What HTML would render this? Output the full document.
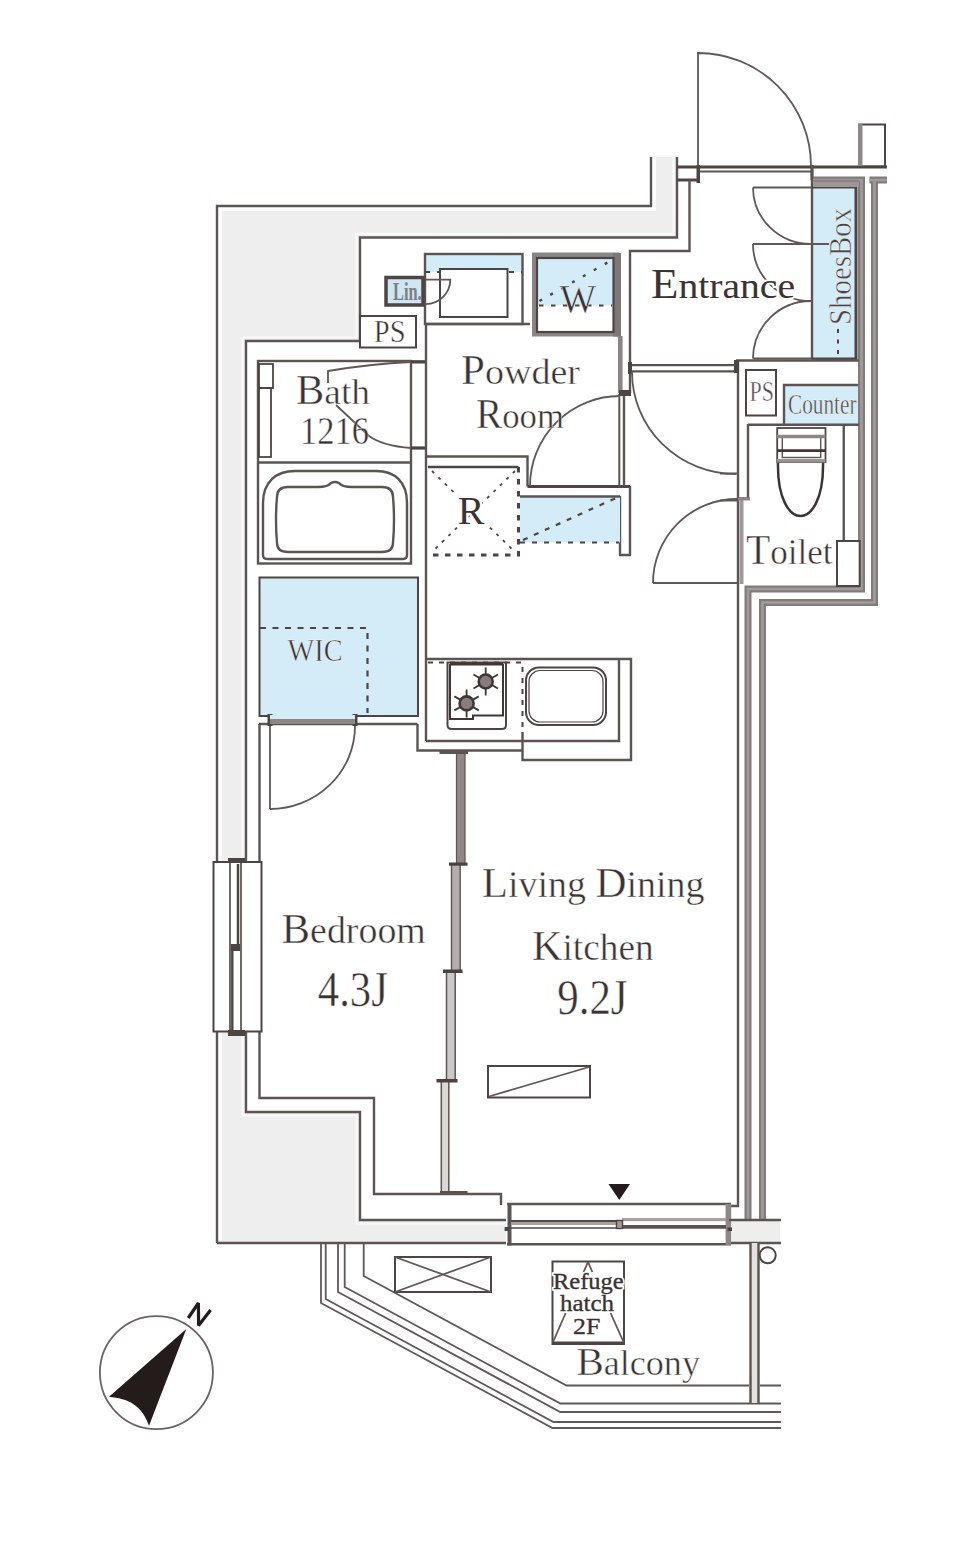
<!DOCTYPE html>
<html><head><meta charset="utf-8"><title>Floor plan</title>
<style>
html,body{margin:0;padding:0;background:#fff;width:960px;height:1552px;overflow:hidden}
svg{display:block}
.l{stroke:#5b5452;stroke-width:2.4;fill:none}
.m{stroke:#5f5856;stroke-width:1.8;fill:none}
.k{stroke:#4d4543;stroke-width:3;fill:none}
.d{stroke:#4d4543;stroke-width:1.6;fill:none;stroke-dasharray:4 3}
.g{fill:#eeeeee}
.b{fill:#d4ebf8}
.gw{stroke:#8d8685;stroke-width:5.5;fill:none}
text{font-family:"Liberation Serif",serif;fill:#3a3332;stroke:#fff;stroke-width:0.45px}
.halo text{stroke:#fff;stroke-width:3.5px;fill:#fff}
.bold text{stroke:#3a3332;stroke-width:0.35px;fill:#3a3332}
</style></head>
<body>
<svg width="960" height="1552" viewBox="0 0 960 1552">
<!-- GRAY OUTER WALL -->
<path class="g" d="M217,206 H651 V157 H677 V237.5 H360 V341 H246 V1112 H360 V1220 H506 V1243 H217 Z"/>
<path d="M220,1240 V209 H654 V157" stroke="#fff" stroke-width="4" fill="none"/>
<path class="l" d="M217,1243 V206 H651 V157"/>
<path d="M673.5,157 V234 H356.5 V337.5 H242.5 V1115.5 H356.5 V1223.5 H506" stroke="#fbfbfb" stroke-width="2" fill="none" opacity="0.8"/>
<path class="l" d="M677,157 V237.5 H360 V341 H246 V1112 H360 V1220 H506"/>
<path class="l" d="M217,1243 H506"/>

<!-- entrance door / top -->
<path class="m" d="M698,166 V53 A113,113 0 0 1 811,166"/>
<path class="k" d="M677,167 H887"/>
<path class="m" d="M697,171.5 H812"/>
<path class="k" d="M677,180 H697"/>
<path class="l" d="M689.5,180 V251 H630 V393"/>
<rect x="696.5" y="165" width="3.5" height="18" fill="#4d4543"/>
<rect x="810.5" y="165" width="3" height="15" fill="#4d4543"/>
<rect x="859" y="124.5" width="26" height="42" fill="none" stroke="#4d4543" stroke-width="2"/>
<rect x="858" y="124" width="4.5" height="42" fill="#8d8685"/>
<!-- MARKER:TOP -->
<!-- east walls -->
<path d="M812,180 H861.5 V589 H748 V1221 M869.5,180 H887 M874.5,180 V602.5 H762.5 V1221" stroke="#817b7a" stroke-width="7" fill="none"/>
<path d="M812,180 H861.5 V589 H748 V1221 M869.5,180 H887 M874.5,180 V602.5 H762.5 V1221" stroke="#a19c9b" stroke-width="2.6" fill="none"/>
<!-- shoebox -->
<rect x="812" y="186" width="44" height="173" class="b"/>
<path class="l" d="M812,165 V360"/>
<path class="k" d="M812,187 H856 V359 H812"/>
<path d="M838,329 V357" stroke="#4d4543" stroke-width="2" stroke-dasharray="4 6.5"/>
<rect x="813" y="179" width="46" height="8" fill="#9e9796"/>
<path d="M813,181 H859" stroke="#8a8382" stroke-width="2"/>
<!-- shoe doors -->
<path class="m" d="M753,187.5 H811 M753,187.5 A58,56.5 0 0 0 811,244 M753,244 H829 M753,244 A58,57 0 0 0 811,301 M753,358.5 A58,57.5 0 0 1 811,301 H800 M753,358.5 H811"/>
<!-- toilet zone -->
<path class="l" d="M736,360.5 H859"/>
<path class="l" d="M738,360 V1206 H731"/>
<path d="M630,365.2 H737 M630,371.3 H737" stroke="#5a5250" stroke-width="2.3" fill="none"/>
<rect x="734" y="360" width="5" height="13" fill="#4d4543"/>
<rect x="628" y="362" width="4" height="12" fill="#4d4543"/>
<path class="m" d="M632,372 A104,102 0 0 0 736,474"/>
<rect x="746" y="370" width="30" height="45.5" fill="none" stroke="#4d4543" stroke-width="2"/>
<rect x="784" y="385" width="74" height="40" class="b"/>
<path class="l" d="M784,425 V385 H858"/>
<path d="M784,425 H858" stroke="#4d4543" stroke-width="2.2" stroke-dasharray="5 7"/>
<path class="l" d="M748,424.7 H859 M748,424 V498.5 H737"/>
<path class="l" d="M843.75,425 V541"/>
<rect x="837" y="541" width="22.7" height="45" fill="#fff" stroke="#4d4543" stroke-width="2"/>
<path d="M741.5,500 V584" stroke="#9f9897" stroke-width="4"/>
<path d="M738,499 H750" stroke="#8d8685" stroke-width="3"/>
<path class="m" d="M653,583 A84,84 0 0 1 737,499 M653,583 H737"/>
<path class="m" d="M720,473.5 H737 M720,500.5 H737"/>
<!-- toilet -->
<path d="M778,461 C777,500 790,516 800.5,516 C811,516 824,500 823,461" stroke="#3a3332" stroke-width="2.5" fill="none"/>
<rect x="777.2" y="428" width="48.3" height="34" fill="#fff" stroke="#4d4543" stroke-width="1.8"/>
<rect x="782.3" y="436" width="38.4" height="21.5" fill="none" stroke="#5a5250" stroke-width="1.4"/>
<path d="M777,436.6 H825.5" stroke="#8d8685" stroke-width="3.5"/>
<path d="M777,450.6 H826" stroke="#3e3735" stroke-width="2.6"/>
<path d="M777,460.8 H825.5" stroke="#9a9392" stroke-width="3.5"/>
<!-- MARKER:EAST -->
<!-- vanity -->
<rect x="425" y="254" width="97.5" height="18" class="b"/>
<rect x="425" y="254" width="97.5" height="70" class="l"/>
<path d="M425,272 H522" stroke="#4d4543" stroke-width="2.2" stroke-dasharray="5 7"/>
<rect x="440" y="269" width="67.5" height="48" fill="#fff" stroke="#4d4543" stroke-width="2"/>
<path class="l" d="M425,324 H530"/>
<!-- Lin -->
<path class="m" d="M424,279.6 H450.3 A24.5,24.5 0 0 1 425.8,304.1"/>
<rect x="386" y="277.5" width="37" height="27.5" fill="#cfe6f3" stroke="#4d4543" stroke-width="3.5"/>
<!-- PS upper -->
<rect x="360" y="316" width="56" height="31.5" fill="#fff" stroke="#4d4543" stroke-width="2"/>
<!-- W box -->
<rect x="538" y="259" width="75" height="46.5" class="b"/>
<rect x="534.5" y="255" width="82" height="79" fill="none" stroke="#8a8584" stroke-width="5"/>
<rect x="613" y="253" width="8" height="83.5" fill="#7d7877"/>
<rect x="537" y="258" width="76.5" height="74" fill="none" stroke="#4d4543" stroke-width="2.2"/>
<path d="M539,305.5 H612" stroke="#4d4543" stroke-width="2.2" stroke-dasharray="4.5 7.5" fill="none"/>
<path d="M539.4,301 L607.6,262.5" stroke="#4d4543" stroke-width="2.4" stroke-dasharray="3 9.5" fill="none"/>
<!-- powder room walls -->
<path class="l" d="M426,324 V741"/>
<path class="l" d="M426,456.5 H527.5 V486.5"/>
<path class="k" d="M527.5,486.5 H630"/>
<path d="M620.3,336 V393" stroke="#8a8584" stroke-width="4.6" fill="none"/>
<path d="M619.3,394 V487" stroke="#5b5452" stroke-width="2" fill="none"/>
<path class="l" d="M624,396 V486 M630,486 V555 M620,496 V555 M619,555 H631"/>
<rect x="619" y="390" width="12" height="6" fill="#4d4543"/>
<path class="m" d="M620,396 A90,90 0 0 0 530,486"/>
<!-- R box -->
<path d="M428,467 H518.5" stroke="#4d4543" stroke-width="2.6" fill="none"/>
<path d="M518.5,467 V555 H428" stroke="#4d4543" stroke-width="3" stroke-dasharray="5.5 6.5" fill="none"/>
<path d="M432,471 L515,552 M515,471 L432,552" stroke="#4d4543" stroke-width="1.8" stroke-dasharray="3 6" fill="none"/>
<!-- blue shelf -->
<rect x="520" y="496" width="100" height="46.5" class="b"/>
<path class="l" d="M520,496.5 H620"/>
<path d="M520,542.5 H619 M523,540 L616,498" stroke="#4d4543" stroke-width="2.2" stroke-dasharray="5 7" fill="none"/>
<!-- MARKER:POWDER -->
<!-- bath -->
<rect x="258" y="361" width="153" height="202.5" class="l"/>
<path class="l" d="M411,361.5 H425 M411,448 H425"/>
<path class="k" d="M411,362 H425 M411,448 H425"/>
<path class="l" d="M258,462.5 H411"/>
<rect x="259" y="364" width="14" height="24" fill="none" stroke="#4d4543" stroke-width="1.8"/>
<rect x="259" y="388" width="12" height="69" fill="none" stroke="#4d4543" stroke-width="1.8"/>
<path class="m" d="M411,362 Q370,364 328,371 V383"/>
<path class="m" d="M411,448 Q383,446 369,436 L336,405"/>
<!-- tub -->
<path class="l" d="M263,555 V503 C263,482 276,471 295,471 H376 C395,471 407,482 407,503 V555 Q407,559 403,559 H267 Q263,559 263,555 Z"/>
<path class="l" d="M277,497 C277,490 281,487 288,487 H318 Q328,487 331,483 Q335,481 339,483 Q342,487 352,487 H382 C389,487 393,490 393,497 Q395,520 393,543 C393,549 389,552 382,552 H288 C281,552 277,549 277,543 Q275,520 277,497 Z"/>
<!-- WIC -->
<rect x="259.5" y="577.5" width="158.5" height="138.5" class="b" stroke="#4d4543" stroke-width="2"/>
<path d="M260,628 H367.5 V713" stroke="#4d4543" stroke-width="2.2" stroke-dasharray="6 6.5" fill="none"/>
<!-- MARKER:BATH -->
<!-- kitchen counter -->
<path class="l" d="M426,659 H631 V760 H522.5 V732"/>
<path class="l" d="M619,660 V741 H426"/>
<path d="M428,662.5 H522.5 V732" stroke="#4d4543" stroke-width="2" stroke-dasharray="5 6" fill="none"/>
<path class="l" d="M417.5,724 V750.5 H522.5"/>
<!-- stove -->
<path d="M447.5,662.5 H506 V725 Q506,729 502,729 H451.5 Q447.5,729 447.5,725 Z" fill="#fff" stroke="#4d4543" stroke-width="2"/>
<path d="M450,664 V719 H473 V715.5 H503 V664" stroke="#3e3735" stroke-width="2" fill="none"/>
<path d="M450,664 H503" stroke="#3e3735" stroke-width="3" fill="none"/>
<g id="burner">
<path d="M485.7,667.5 V695.5 M473.5,674.5 L497.9,688.5 M473.5,688.5 L497.9,674.5" stroke="#3e3735" stroke-width="1.8"/>
<circle cx="485.7" cy="681.5" r="7" fill="#857e7c" stroke="#3e3735" stroke-width="2.6"/>
</g>
<use href="#burner" x="-19.1" y="21.9"/>
<!-- sink -->
<rect x="526" y="667.5" width="80" height="57.5" rx="13" fill="none" stroke="#4d4543" stroke-width="2"/>
<rect x="529" y="670.5" width="74" height="51.5" rx="11" fill="none" stroke="#4d4543" stroke-width="1.2"/>
<!-- sliding partition -->
<rect x="456.5" y="753" width="8.5" height="111.5" fill="#8f8887" stroke="#5d5553" stroke-width="1.2"/>
<rect x="451.5" y="864" width="8.7" height="107" fill="#b3adac" stroke="#5d5553" stroke-width="1.4"/>
<rect x="446.5" y="971" width="8.7" height="109" fill="#cdc8c7" stroke="#5d5553" stroke-width="1.5"/>
<rect x="441.3" y="1080" width="7.5" height="112" fill="#dcd8d7" stroke="#5d5553" stroke-width="1.5"/>
<rect x="439.5" y="750.5" width="28.5" height="3.5" fill="#5a5250"/>
<rect x="449" y="862.5" width="18.5" height="3.2" fill="#4a4240"/>
<rect x="443" y="969.5" width="19.5" height="3.5" fill="#4a4240"/>
<rect x="436.5" y="1079" width="21" height="3.5" fill="#4a4240"/>
<rect x="440" y="1191" width="27.5" height="3.8" fill="#5a5250"/>
<!-- MARKER:KITCHEN -->
<!-- bedroom -->
<path class="l" d="M259,724 H417.5"/>
<path class="l" d="M259.5,724 V862 M259.5,1031 V1098 H374 V1194 H501 V1205"/>
<rect x="267.5" y="714" width="5" height="12" fill="#4d4543"/>
<rect x="352.5" y="714" width="5" height="12" fill="#4d4543"/>
<rect x="270" y="715" width="85" height="4" class="b"/>
<path d="M270,721.5 H355" stroke="#8d8685" stroke-width="5" fill="none"/>
<path class="m" d="M270,726 V809 M355,726 A85,83 0 0 1 270,809"/>
<!-- west window -->
<rect x="213.5" y="862" width="48" height="169.5" fill="#fff" stroke="#4d4543" stroke-width="2"/>
<path class="m" d="M230,862 V1031 M241,862 V1031"/>
<path d="M238,864 V948" stroke="#4d4543" stroke-width="2.5"/>
<path d="M232.3,948 V1030" stroke="#4d4543" stroke-width="2.4"/>
<rect x="228" y="858" width="17" height="5" fill="#4d4543"/>
<rect x="228" y="1030" width="17" height="6" fill="#4d4543"/>
<rect x="231" y="944" width="9" height="7" fill="#4d4543"/>
<!-- LDK symbol -->
<rect x="488" y="1066" width="102" height="31.5" fill="none" stroke="#4d4543" stroke-width="2"/>
<path class="m" d="M489,1096.5 L589,1067"/>
<!-- south window -->
<rect x="507" y="1203" width="224" height="42.5" fill="#fff"/>
<path class="l" d="M507,1204 H731 M507,1244.3 H731"/>
<rect x="507.5" y="1203" width="4" height="42.5" fill="#5d5553"/>
<rect x="725.6" y="1204" width="5.6" height="41" fill="#8d8685"/>
<path d="M511,1221 H616" stroke="#4d4543" stroke-width="2"/>
<rect x="511" y="1222" width="105" height="3" fill="#a8a1a0"/>
<path d="M511,1228 H616" stroke="#4d4543" stroke-width="1.6"/>
<rect x="622" y="1218" width="104" height="3.2" fill="#a8a1a0"/>
<rect x="622" y="1225" width="104" height="3.75" fill="#5a5250"/>
<rect x="616.5" y="1220.5" width="6" height="8" fill="#a09998" stroke="#4d4543" stroke-width="1.4"/>
<rect x="727.5" y="1227.5" width="5.5" height="3.5" fill="#4d4543"/>
<rect x="504.6" y="1227" width="5" height="4" fill="#4d4543"/>
<path d="M608.5,1184 H630 L619.3,1200 Z" fill="#231c1b"/>
<!-- SE gray bit -->
<rect x="732" y="1221" width="48" height="21" class="g"/>
<path class="l" d="M729,1220 H781 M731,1243 H781"/>
<!-- MARKER:BED -->
<!-- balcony -->
<path class="m" d="M321,1243 V1303 L552.5,1428 H781"/>
<path class="m" d="M325.7,1243 V1299 L553.5,1422 H781"/>
<path class="m" d="M338,1243 V1292 L560.2,1412 H781"/>
<path class="m" d="M344.7,1243 V1287 L560.4,1403.5 H781"/>
<path class="m" d="M363.7,1243 V1276 L566.5,1385.5 H749 M760,1385.5 H781"/>
<rect x="751" y="1243" width="7" height="160" fill="#e4e1e0"/>
<path class="l" d="M750.5,1243 V1404 M758.5,1243 V1404"/>
<circle cx="767.7" cy="1255.3" r="8" fill="none" stroke="#4d4543" stroke-width="2"/>
<rect x="395" y="1257" width="96" height="35" fill="none" stroke="#4d4543" stroke-width="2"/>
<path class="m" d="M395,1257 L491,1292 M491,1257 L395,1292"/>
<rect x="552.5" y="1261.5" width="71.5" height="82.5" fill="none" stroke="#4d4543" stroke-width="2"/>
<path class="k" d="M552.5,1343 H624"/>
<path class="m" d="M588,1262 L583.6,1272 M565.7,1313 L553,1342 M588,1262 L592.4,1272 M610.6,1313 L623.5,1342"/>
<!-- compass -->
<circle cx="156.4" cy="1372.6" r="56.5" fill="none" stroke="#6a6463" stroke-width="1.8"/>
<path d="M186.3,1328.9 L109,1396.7 C128,1398.5 142,1405 149,1425.8 Z" fill="#231c1b"/>
<!-- MARKER:BALCONY -->
<!-- compass N -->
<path d="M188.3,1318 L198.4,1303 L198.6,1325.5 L210.6,1310" stroke="#231c1b" stroke-width="3.2" fill="none" stroke-linejoin="bevel"/>
<!-- TEXT -->
<text x="651" y="298" font-size="41.2" textLength="144" lengthAdjust="spacingAndGlyphs" style="paint-order:stroke;stroke:#fff;stroke-width:4">E<tspan font-size="36.4">ntrance</tspan></text>
<text x="461" y="383.75" font-size="41.2" textLength="119" lengthAdjust="spacingAndGlyphs">P<tspan font-size="36.4">owder</tspan></text>
<text x="476" y="427.5" font-size="41.2" textLength="88" lengthAdjust="spacingAndGlyphs">R<tspan font-size="36.4">oom</tspan></text>
<text x="296" y="403.5" font-size="41.2" textLength="74" lengthAdjust="spacingAndGlyphs">B<tspan font-size="36.4">ath</tspan></text>
<text x="300" y="444" font-size="40" textLength="69" lengthAdjust="spacingAndGlyphs">1216</text>
<text x="471" y="523.75" font-size="40" text-anchor="middle" style="paint-order:stroke;stroke:#fff;stroke-width:5">R</text>
<text x="578" y="312" font-size="39" text-anchor="middle">W</text>
<text x="746" y="564.4" font-size="41.2" textLength="86.5" lengthAdjust="spacingAndGlyphs">T<tspan font-size="36.4">oilet</tspan></text>
<text x="287.5" y="661.25" font-size="32" textLength="55" lengthAdjust="spacingAndGlyphs">WIC</text>
<text x="281.5" y="942.5" font-size="42.2" textLength="144.3" lengthAdjust="spacingAndGlyphs">B<tspan font-size="37.3">edroom</tspan></text>
<text x="317.8" y="1006.25" font-size="50" textLength="70" lengthAdjust="spacingAndGlyphs">4.3J</text>
<text x="481.7" y="896.5" font-size="42.2" textLength="222.7" lengthAdjust="spacingAndGlyphs">L<tspan font-size="37.3">iving </tspan>D<tspan font-size="37.3">ining</tspan></text>
<text x="532" y="959.5" font-size="42.2" textLength="121.6" lengthAdjust="spacingAndGlyphs">K<tspan font-size="37.3">itchen</tspan></text>
<text x="557.2" y="1013.6" font-size="50" textLength="70.4" lengthAdjust="spacingAndGlyphs">9.2J</text>
<text x="576.4" y="1374.8" font-size="40.2" textLength="123.6" lengthAdjust="spacingAndGlyphs">B<tspan font-size="35.5">alcony</tspan></text>
<text x="373.75" y="341.6" font-size="32" textLength="31.75" lengthAdjust="spacingAndGlyphs">PS</text>
<text x="749.5" y="400.6" font-size="29" textLength="24.4" lengthAdjust="spacingAndGlyphs" style="fill:#4f4847">PS</text>
<text x="788" y="413.5" font-size="30" textLength="68.5" lengthAdjust="spacingAndGlyphs" style="fill:#4a4342">Counter</text>
<text x="393" y="299.9" font-size="26" font-weight="bold" textLength="28.7" lengthAdjust="spacingAndGlyphs" style="fill:#7c7e83;stroke:none">Lin.</text>
<text transform="translate(851,325) rotate(-90)" font-size="32" textLength="117" lengthAdjust="spacingAndGlyphs" style="fill:#4a4443">ShoesBox</text>
<g class="halo">
<text x="553" y="1288.75" font-size="23" textLength="70.7" lengthAdjust="spacingAndGlyphs">Refuge</text>
<text x="560" y="1311.25" font-size="24" textLength="54" lengthAdjust="spacingAndGlyphs">hatch</text>
<text x="573" y="1333.7" font-size="24" textLength="27.3" lengthAdjust="spacingAndGlyphs">2F</text>
</g>
<g class="bold">
<text x="553" y="1288.75" font-size="23" textLength="70.7" lengthAdjust="spacingAndGlyphs">Refuge</text>
<text x="560" y="1311.25" font-size="24" textLength="54" lengthAdjust="spacingAndGlyphs">hatch</text>
<text x="573" y="1333.7" font-size="24" textLength="27.3" lengthAdjust="spacingAndGlyphs">2F</text>
</g>
<!-- MARKER:TEXT -->
</svg>
</body></html>
